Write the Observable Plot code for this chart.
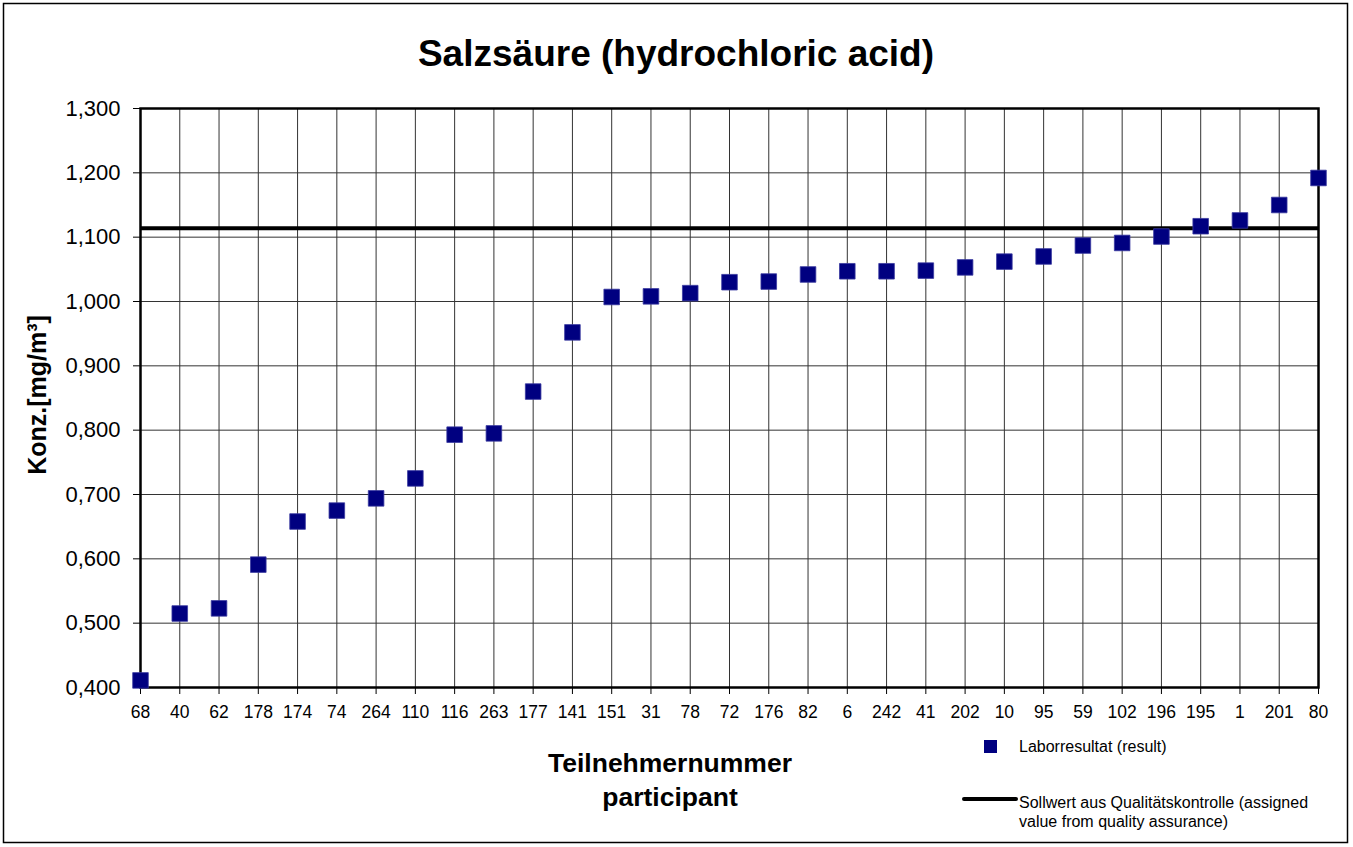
<!DOCTYPE html>
<html><head><meta charset="utf-8">
<script src="https://cdn.jsdelivr.net/npm/d3@7"></script>
<script src="https://cdn.jsdelivr.net/npm/@observablehq/plot@0.6"></script>
<style>body{margin:0;background:#fff;font-family:"Liberation Sans",Arial,sans-serif}</style>
</head><body><div id="chart"></div>
<script>
const participants = ["68","40","62","178","174","74","264","110","116","263","177","141","151","31","78","72","176","82","6","242","41","202","10","95","59","102","196","195","1","201","80"];
const results = [0.411,0.515,0.523,0.591,0.658,0.675,0.694,0.725,0.793,0.795,0.860,0.952,1.007,1.008,1.013,1.030,1.031,1.042,1.047,1.047,1.048,1.053,1.062,1.070,1.087,1.091,1.101,1.117,1.126,1.150,1.192];
const assignedValue = 1.114;
const yTicks = [0.4,0.5,0.6,0.7,0.8,0.9,1.0,1.1,1.2,1.3];

const data = participants.map((p,i)=>({p, v: results[i]}));
const fmt = v => d3.format(",.3f")(v).replace(".", ",");

const W = 1353, H = 847;
const plot = Plot.plot({
  width: W, height: H,
  marginLeft: 140, marginRight: 35, marginTop: 108, marginBottom: 160,
  style: {fontFamily: "Liberation Sans, Arial, sans-serif", background: "#fff"},
  x: {type: "point", domain: participants, label: null, padding: 0, round: false},
  y: {domain: [0.4, 1.3], label: null},
  marks: [
    Plot.gridX(participants, {stroke: "#333", strokeOpacity: 1, strokeWidth: 1}),
    Plot.gridY(yTicks, {stroke: "#333", strokeOpacity: 1, strokeWidth: 1}),
    Plot.axisY(yTicks, {tickFormat: fmt, fontSize: 22, tickSize: 7, tickPadding: 13, stroke: "#000", fill: "#000"}),
    Plot.axisX(participants, {fontSize: 17.5, tickSize: 7, tickPadding: 11, stroke: "#000", fill: "#000"}),
    Plot.frame({stroke: "#000", strokeWidth: 2.5}),
    Plot.ruleY([assignedValue], {stroke: "#000", strokeWidth: 4}),
    Plot.dot(data, {x: "p", y: "v", symbol: "square", r: 8.8, fill: "#000080", stroke: "#3a3aa0", strokeWidth: 0.8})
  ]
});
document.getElementById("chart").appendChild(plot);

const svg = d3.select(plot);
svg.append("rect").attr("x",3.5).attr("y",3.5).attr("width",1344).attr("height",839)
  .attr("fill","none").attr("stroke","#000").attr("stroke-width",1.5);
const ff = "Liberation Sans, Arial, sans-serif";
const T = (x,y,size,bold,anchor,txt) => svg.append("text").attr("x",x).attr("y",y)
  .attr("text-anchor",anchor).attr("font-size",size).attr("font-weight",bold?"bold":"normal")
  .attr("font-family",ff).attr("fill","#000").text(txt);
T(676,66,37,true,"middle","Salzsäure (hydrochloric acid)");
svg.append("text").attr("transform","translate(46,395) rotate(-90)").attr("text-anchor","middle")
  .attr("font-size",25).attr("font-weight","bold").attr("font-family",ff).text("Konz.[mg/m³]");
T(670,772,26.5,true,"middle","Teilnehmernummer");
T(670,806,26.5,true,"middle","participant");
// legend
svg.append("rect").attr("x",984).attr("y",740).attr("width",13).attr("height",13).attr("fill","#000080");
T(1019,752,16,false,"start","Laborresultat (result)");
svg.append("line").attr("x1",964).attr("x2",1016).attr("y1",799).attr("y2",799).attr("stroke","#000").attr("stroke-width",4).attr("stroke-linecap","round");
T(1019,808,16,false,"start","Sollwert aus Qualitätskontrolle (assigned");
T(1019,827,16,false,"start","value from quality assurance)");
</script></body></html>
